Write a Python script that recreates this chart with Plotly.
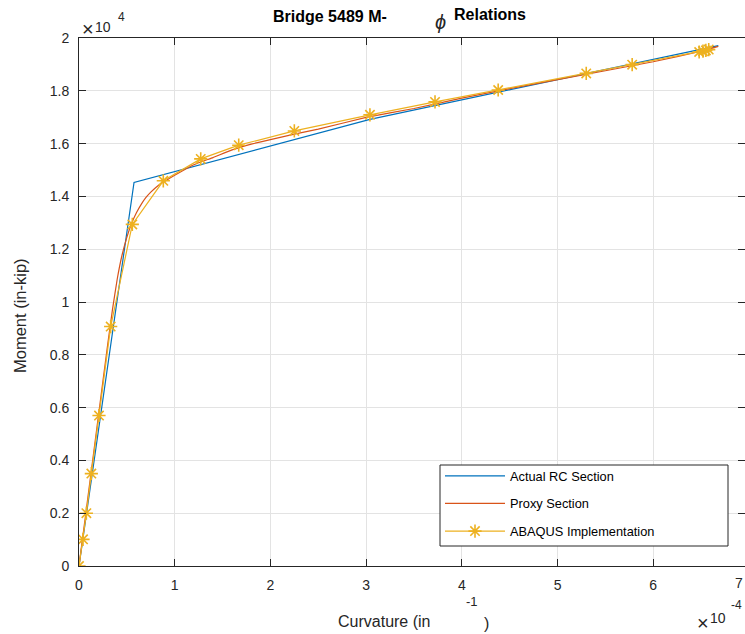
import plotly.graph_objects as go

# Moment-curvature data (curvature in 1/in, moment in in-kip)
rc_curv = [0.0, 0.575e-4, 3.04e-4, 6.68e-4]
rc_moment = [0.0, 14530, 16920, 19710]

proxy_curv = [0.0, 0.05e-4, 0.10e-4, 0.15e-4, 0.20e-4, 0.25e-4, 0.30e-4, 0.35e-4,
              0.40e-4, 0.45e-4, 0.50e-4, 0.55e-4, 0.60e-4, 0.65e-4, 0.70e-4,
              0.75e-4, 0.80e-4, 0.85e-4, 0.90e-4, 1.00e-4, 1.20e-4, 1.40e-4,
              1.60e-4, 1.80e-4, 2.00e-4, 2.25e-4, 2.50e-4, 3.00e-4, 3.50e-4,
              4.00e-4, 4.50e-4, 5.00e-4, 5.50e-4, 6.00e-4, 6.50e-4, 6.68e-4]
proxy_moment = [0, 1400, 2800, 4200, 5600, 7000, 8400, 9720,
                10880, 11780, 12450, 12980, 13380, 13700, 13960,
                14160, 14330, 14470, 14580, 14800, 15200, 15470,
                15760, 15980, 16150, 16360, 16550, 16990, 17330,
                17720, 18080, 18420, 18760, 19100, 19500, 19680]

abaqus_curv = [0.0, 0.042e-4, 0.077e-4, 0.129e-4, 0.209e-4, 0.331e-4, 0.557e-4,
               0.881e-4, 1.272e-4, 1.669e-4, 2.25e-4, 3.04e-4, 3.72e-4, 4.38e-4,
               5.30e-4, 5.78e-4, 6.48e-4, 6.52e-4, 6.55e-4, 6.58e-4]
abaqus_moment = [0, 1010, 2000, 3500, 5700, 9070, 12940,
                 14590, 15420, 15940, 16480, 17090, 17580, 18030,
                 18660, 18990, 19470, 19500, 19530, 19560]

x_tick_vals = [0, 1e-4, 2e-4, 3e-4, 4e-4, 5e-4, 6e-4]
x_tick_text = ["0", "1", "2", "3", "4", "5", "6"]
y_tick_vals = [0, 2000, 4000, 6000, 8000, 10000, 12000, 14000, 16000, 18000, 20000]
y_tick_text = ["0", "0.2", "0.4", "0.6", "0.8", "1", "1.2", "1.4", "1.6", "1.8", "2"]

BLUE = "#0072BD"
RED = "#D95319"
YELLOW = "#EDB120"
INK = "#262626"
FONT = "Liberation Sans, Arial, sans-serif"

fig = go.Figure()
fig.add_trace(go.Scatter(x=rc_curv, y=rc_moment, mode="lines", name="Actual RC Section",
                         line=dict(color=BLUE, width=1.2), legendgroup="a"))
fig.add_trace(go.Scatter(x=proxy_curv, y=proxy_moment, mode="lines", name="Proxy Section",
                         line=dict(color=RED, width=1.2, shape="spline", smoothing=0.3),
                         legendgroup="b"))
fig.add_trace(go.Scatter(x=abaqus_curv, y=abaqus_moment, mode="lines+markers",
                         name="ABAQUS Implementation",
                         line=dict(color=YELLOW, width=1.2),
                         marker=dict(symbol="asterisk-open", size=11,
                                     line=dict(color=YELLOW, width=1.6)),
                         legendgroup="c"))

# plot area: 79..745 px wide, 38..566 px tall
x_max = 6.959e-4
axis_common = dict(showgrid=True, gridcolor="#e3e3e3", gridwidth=1,
                   showline=True, linecolor=INK, linewidth=1, mirror="ticks",
                   ticks="inside", ticklen=7, tickcolor=INK, zeroline=False,
                   tickfont=dict(family=FONT, size=14, color=INK))
fig.update_xaxes(range=[0, x_max], tickvals=x_tick_vals, ticktext=x_tick_text,
                 ticklabelstandoff=6, **axis_common)
fig.update_yaxes(range=[0, 20000], tickvals=y_tick_vals, ticktext=y_tick_text,
                 ticklabelstandoff=6, **axis_common)

W_PLOT = 666.0
H_PLOT = 528.0


def px_x(px):
    return (px - 79) / W_PLOT


def px_y(py):
    return (566 - py) / H_PLOT


ann = []


def text(s, x, y, size, bold=False, xanchor="center", yanchor="middle", angle=0, italic=False):
    t = f"<b>{s}</b>" if bold else s
    if italic:
        t = f"<i>{t}</i>"
    ann.append(dict(text=t, x=px_x(x), y=px_y(y), xref="paper", yref="paper",
                    showarrow=False, xanchor=xanchor, yanchor=yanchor, textangle=angle,
                    font=dict(family=FONT, size=size, color="#000000" if bold else INK)))


# title pieces
text("Bridge 5489 M-", 271, 17, 16, bold=True, xanchor="left")
text("ϕ", 440, 22, 20, italic=True)
text("Relations", 452, 14, 16, bold=True, xanchor="left")
# axis labels
text("Curvature (in", 336, 621, 16, xanchor="left")
text("-1", 472, 601, 13)
text(")", 486, 623, 16)
text("Moment (in-kip)", 20, 316, 16.5, angle=-90)
# exponent markers
text("×", 88, 29, 20)
text("10", 103, 27, 14)
text("4", 121, 17, 12)
text("×", 703, 623, 20)
text("10", 718, 618, 14)
text("-4", 736, 605, 12)
# last tick label at the right edge
text("7", 745, 583, 14, xanchor="right")

fig.update_layout(
    width=745, height=634,
    margin=dict(l=79, r=0, t=38, b=68),
    paper_bgcolor="white", plot_bgcolor="white",
    annotations=ann,
    showlegend=True,
    legend=dict(x=px_x(440), y=px_y(461), xanchor="left", yanchor="top",
                bgcolor="rgba(0,0,0,0)", borderwidth=0,
                font=dict(family=FONT, size=12.8, color="#000000"),
                itemwidth=60, traceorder="grouped", tracegroupgap=8),
    shapes=[dict(type="rect", xref="paper", yref="paper",
                 x0=px_x(440), x1=px_x(728), y0=px_y(546), y1=px_y(465),
                 fillcolor="white", line=dict(color=INK, width=1), layer="above")],
)

fig.write_html("out.html")
